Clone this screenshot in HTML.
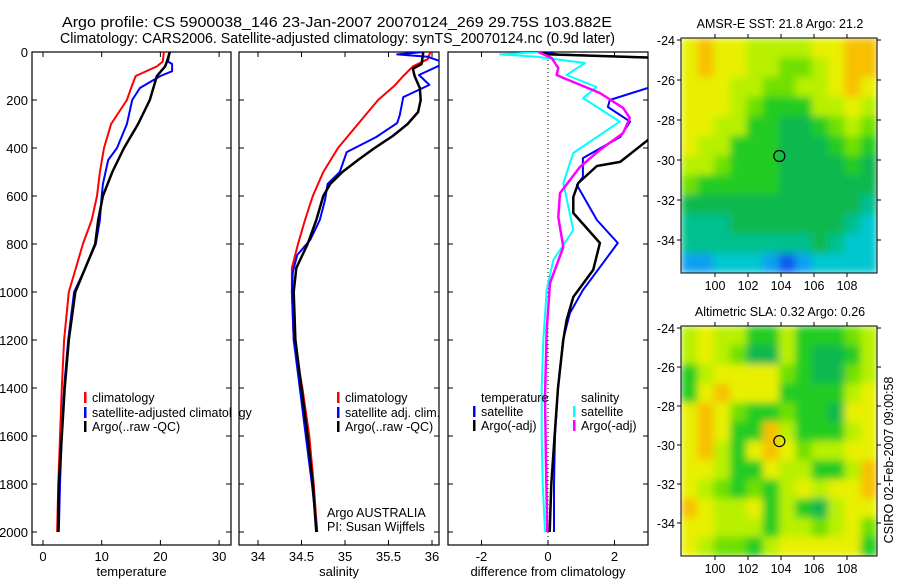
<!DOCTYPE html>
<html><head><meta charset="utf-8"><style>
body{margin:0;background:#fff;}
svg{display:block;font-family:"Liberation Sans",sans-serif;}
</style></head><body>
<svg id="chart" width="900" height="580" viewBox="0 0 900 580">
<defs><filter id="smooth" x="0" y="0" width="1" height="1"><feGaussianBlur stdDeviation="4" edgeMode="duplicate"/></filter></defs>
<text x="62" y="27" font-size="15" textLength="550" lengthAdjust="spacingAndGlyphs">Argo profile: CS 5900038_146 23-Jan-2007 20070124_269 29.75S 103.882E</text>
<text x="60" y="43" font-size="15" textLength="555" lengthAdjust="spacingAndGlyphs">Climatology: CARS2006. Satellite-adjusted climatology: synTS_20070124.nc (0.9d later)</text>
<g id="g"></g>
</svg>
<script>
// ---- data ----
const depthT = [0,40,60,100,150,200,300,400,500,600,700,800,900,1000,1200,1400,1600,1800,2000];
const tempClim = [20.6,20.4,19.4,15.8,15.0,14.3,11.6,10.4,9.7,9.2,8.3,6.8,5.6,4.4,3.6,3.2,2.9,2.6,2.4];
const depthTB = [0,40,50,80,100,150,200,300,400,450,550,600,700,800,900,1000,1200,1400,1600,1800,2000];
const tempSat = [21.6,21.3,22.0,22.0,20.0,16.5,15.2,14.3,12.6,11.1,10.2,10.0,9.7,9.0,7.2,5.3,4.3,3.6,3.2,2.9,2.7];
const depthTK = [0,40,60,100,200,300,400,500,600,700,800,900,1000,1200,1400,1600,1800,2000];
const tempArgo = [21.6,21.1,20.8,19.4,18.2,16.2,13.8,11.8,10.2,9.4,8.9,7.2,5.5,4.4,3.7,3.2,2.7,2.6];

const depthSR = [0,30,60,100,140,200,300,400,500,600,700,800,900,1000,1200,1400,1600,1800,2000];
const salClim = [35.98,35.95,35.78,35.67,35.57,35.38,35.15,34.92,34.75,34.63,34.54,34.46,34.39,34.39,34.41,34.51,34.59,34.64,34.68];
const depthSB = [0,10,20,35,46,96,137,188,262,296,354,417,500,550,617,700,783,846,917,1000,1200,1400,1600,1800,2000];
const salSat = [35.9,35.6,35.95,36.07,36.15,35.85,35.97,35.67,35.63,35.6,35.36,35.02,34.94,34.8,34.77,34.71,34.6,34.45,34.4,34.39,34.41,34.48,34.55,34.62,34.68];
const depthSK = [0,50,70,100,150,200,250,300,350,400,450,500,550,600,700,800,900,1000,1200,1400,1600,1800,2000];
const salArgo = [35.9,35.88,35.78,35.8,35.86,35.87,35.84,35.72,35.55,35.34,35.15,34.97,34.83,34.75,34.67,34.57,34.44,34.41,34.43,34.5,34.57,34.63,34.67];

const depthDB = [0,10,25,50,100,150,200,229,290,354,442,521,554,700,796,880,992,1088,1200,1400,1600,1800,2000];
const diffTSat = [-0.2,0.3,3.3,3.5,3.5,3.0,1.86,1.8,2.47,2.17,1.05,1.05,0.87,1.47,2.1,1.65,1.05,0.66,0.45,0.3,0.21,0.18,0.18];
const depthDK = [0,10,25,100,200,300,367,458,475,546,604,671,796,908,1021,1117,1200,1400,1600,1800,2000];
const diffTArgo = [-0.24,0.05,3.5,3.6,3.6,3.4,3.0,2.17,1.47,0.91,0.76,0.76,1.56,1.36,0.76,0.56,0.46,0.3,0.2,0.1,0.05];
const depthDC = [0,10,20,46,96,146,192,290,421,546,742,867,992,1200,1400,1600,1800,2000];
const diffSSat = [-0.24,-1.44,-0.34,1.11,0.56,1.46,1.06,2.16,0.76,0.46,0.76,0.16,-0.04,-0.14,-0.19,-0.19,-0.16,-0.09];
const depthDM = [0,25,67,96,108,171,233,275,338,408,479,588,688,813,963,1158,1438,1717,2000];
const diffSArgo = [-0.29,0.11,0.31,0.26,0.46,1.56,2.26,2.46,2.26,1.56,0.96,0.36,0.31,0.46,0.06,-0.04,-0.09,-0.06,-0.02];

const depthTicks = [0,200,400,600,800,1000,1200,1400,1600,1800,2000];
const tempTicks = [0,10,20,30];
const salTicks = [34,34.5,35,35.5,36];
const diffTicks = [-2,0,2];
const latTicks = [-24,-26,-28,-30,-32,-34];
const lonTicks = [100,102,104,106,108];

const mapPalette = ['#0a5cf0','#10a0f0','#00c8d0','#00c090','#10b850','#20cc20','#70e000','#b8f000','#e8f000','#f8c000'];
const sstGrid = [
[8,9,8,8,7,7,7,7,8,8,9,9],
[8,9,8,8,7,7,6,6,7,8,9,9],
[8,8,8,7,7,6,6,7,7,8,9,8],
[8,8,8,7,6,5,5,5,7,7,8,7],
[8,8,7,7,5,5,4,4,5,6,7,6],
[8,7,7,5,5,5,4,4,4,5,6,5],
[7,7,6,5,5,5,4,4,4,4,5,4],
[6,5,5,5,5,5,4,4,4,4,4,4],
[4,4,4,4,4,4,4,4,4,4,4,3],
[3,3,3,4,4,4,4,4,4,4,3,2],
[3,3,3,3,3,3,3,3,4,3,2,2],
[1,1,2,2,2,1,0,1,2,2,2,2]];
const slaGrid = [
[7,8,7,7,5,5,7,5,5,5,6,7],
[7,8,7,6,4,4,7,5,4,4,5,7],
[5,7,8,8,8,8,6,5,4,4,6,7],
[5,8,9,8,8,8,5,5,5,5,7,8],
[8,9,8,6,5,5,6,5,5,4,8,8],
[8,9,8,5,5,9,7,5,5,5,7,8],
[8,9,7,5,8,9,8,6,7,7,8,8],
[8,8,7,5,5,8,7,7,5,5,7,9],
[8,7,6,5,6,5,7,8,7,8,8,9],
[9,8,7,7,8,5,7,5,4,7,8,8],
[8,8,7,7,7,5,7,7,6,7,8,6],
[8,7,6,6,5,7,8,8,8,8,8,5]];
const floatLon = 103.9, floatLat = -29.8;

// ---- drawing ----
const NS='http://www.w3.org/2000/svg';
const G=document.getElementById('g');
function el(tag,attrs,parent){const e=document.createElementNS(NS,tag);for(const k in attrs)e.setAttribute(k,attrs[k]);(parent||G).appendChild(e);return e;}
const yD = d => 52 + 0.24*d;

function panel(name,x0,x1,xs,ticks,fmt,xtitle,showY){
  const gp=el('g',{});
  
  
  const cid='clip-'+name;
  const cp=el('clipPath',{id:cid},gp); el('rect',{x:x0,y:52,width:x1-x0,height:493},cp);
  const fr=el('rect',{x:x0,y:52,width:x1-x0,height:493,fill:'none',stroke:'#000','stroke-width':1.2},gp);
  
  
  depthTicks.forEach(d=>{
    el('line',{x1:x0,x2:x0+5,y1:yD(d),y2:yD(d),stroke:'#000'},gp);
    el('line',{x1:x1-5,x2:x1,y1:yD(d),y2:yD(d),stroke:'#000'},gp);
    if(showY){const t=el('text',{x:x0-4,y:yD(d)+5,'font-size':13,'text-anchor':'end'},gp);t.textContent=d;
      
      }
  });
  ticks.forEach(v=>{
    const x=xs(v);
    el('line',{x1:x,x2:x,y1:52,y2:57,stroke:'#000'},gp);
    el('line',{x1:x,x2:x,y1:540,y2:545,stroke:'#000'},gp);
    const t=el('text',{x:x,y:561,'font-size':13,'text-anchor':'middle'},gp);t.textContent=fmt(v);
    
    
  });
  const tt=el('text',{x:(x0+x1)/2,y:576,'font-size':13,'text-anchor':'middle'},gp);tt.textContent=xtitle;
  
  
  const inner=el('g',{'clip-path':'url(#'+cid+')'},gp);
  return inner;
}
function series(g,name,depths,vals,xs,color,w){
  const pts=depths.map((d,i)=>xs(vals[i]).toFixed(1)+','+yD(d).toFixed(1)).join(' ');
  const p=el('polyline',{points:pts,fill:'none',stroke:color,'stroke-width':w,'stroke-linejoin':'round'},g);
  
  
}
function legend(x,y,color,label,name){
  if(color){el('rect',{x:x,y:y-10,width:2.5,height:11,fill:color});}
  const t=el('text',{x:x+8,y:y,'font-size':12.5});t.textContent=label;
  
  
}

const xT=v=>43+5.87*v;
const p1=panel('temperature-panel',32,231,xT,tempTicks,v=>v,'temperature',true);
series(p1,'temp-climatology-line',depthT,tempClim,xT,'#f00',2);
series(p1,'temp-satellite-line',depthTB,tempSat,xT,'#00f',2);
series(p1,'temp-argo-line',depthTK,tempArgo,xT,'#000',2.5);

const xS=v=>258+87*(v-34);
const p2=panel('salinity-panel',239,439,xS,salTicks,v=>v,'salinity',false);
series(p2,'sal-climatology-line',depthSR,salClim,xS,'#f00',2);
series(p2,'sal-satellite-line',depthSB,salSat,xS,'#00f',2);
series(p2,'sal-argo-line',depthSK,salArgo,xS,'#000',2.5);

const xDf=v=>548+33.25*v;
const p3=panel('difference-panel',448,648,xDf,diffTicks,v=>v,'difference from climatology',false);
el('line',{x1:xDf(0),x2:xDf(0),y1:52,y2:545,stroke:'#000','stroke-dasharray':'1,3'},p3);
series(p3,'diff-temp-satellite-line',depthDB,diffTSat,xDf,'#00f',2);
series(p3,'diff-temp-argo-line',depthDK,diffTArgo,xDf,'#000',2.5);
series(p3,'diff-sal-satellite-line',depthDC,diffSSat,xDf,'#0ff',2);
series(p3,'diff-sal-argo-line',depthDM,diffSArgo,xDf,'#f0f',2.5);

legend(84,402,'#f00','climatology','legend-climatology');
legend(84,417,'#00f','satellite-adjusted climatology','legend-satellite-adjusted');
legend(84,431,'#000','Argo(..raw -QC)','legend-argo');
el('rect',{x:232,y:405,width:6,height:16,fill:'#fff'});
legend(337,402,'#f00','climatology','legend2-climatology');
legend(337,417,'#00f','satellite adj. clim.','legend2-satellite');
legend(337,431,'#000','Argo(..raw -QC)','legend2-argo');
legend(473,402,null,'temperature','legend3-temperature-heading');
legend(473,416,'#00f','satellite','legend3-temp-satellite');
legend(473,430,'#000','Argo(-adj)','legend3-temp-argo');
legend(573,402,null,'salinity','legend3-salinity-heading');
legend(573,416,'#0ff','satellite','legend3-sal-satellite');
legend(573,430,'#f0f','Argo(-adj)','legend3-sal-argo');
legend(319,517,null,'Argo AUSTRALIA','credit-argo-australia');
legend(319,531,null,'PI: Susan Wijffels','credit-pi');

function map(name,title,top,bottom,grid,latScale){
  const x0=681,x1=877;
  const gm=el('g',{});
  
  
  const lon=v=>715+16.5*(v-100);
  const lat=v=>top+2+ (-24-v)*latScale;
  const cols=grid[0].length, rows=grid.length;
  const cw=(x1-x0)/cols, rh=(bottom-top)/rows;
  const cid='clip-'+name;
  const cp=el('clipPath',{id:cid},gm); el('rect',{x:x0,y:top,width:x1-x0,height:bottom-top},cp);
  const outer=el('g',{'clip-path':'url(#'+cid+')'},gm);
  const cells=el('g',{filter:'url(#smooth)'},outer);
  grid.forEach((row,r)=>row.forEach((v,c)=>{
    const cell=el('rect',{x:x0+c*cw,y:top+r*rh,width:cw+0.6,height:rh+0.6,fill:mapPalette[v]},cells);
    
    
  }));
  el('rect',{x:x0,y:top,width:x1-x0,height:bottom-top,fill:'none',stroke:'#000'},gm);
  latTicks.forEach(v=>{const y=lat(v);
    el('line',{x1:x0-4,x2:x0,y1:y,y2:y,stroke:'#000'},gm);
    el('line',{x1:x1,x2:x1+4,y1:y,y2:y,stroke:'#000'},gm);
    const t=el('text',{x:x0-6,y:y+5,'font-size':12.5,'text-anchor':'end'},gm);t.textContent=v;
    
    });
  lonTicks.forEach(v=>{const x=lon(v);
    el('line',{x1:x,x2:x,y1:top-4,y2:top,stroke:'#000'},gm);
    el('line',{x1:x,x2:x,y1:bottom,y2:bottom+4,stroke:'#000'},gm);
    const t=el('text',{x:x,y:bottom+17,'font-size':12.5,'text-anchor':'middle'},gm);t.textContent=v;
    
    });
  const c=el('circle',{cx:lon(floatLon),cy:lat(floatLat),r:5.5,fill:'none',stroke:'#000','stroke-width':1.2},gm);
  
  
  const t=el('text',{x:780,y:top-10,'font-size':12.5,'text-anchor':'middle'},gm);t.textContent=title;
  
  
}
map('sst-map','AMSR-E SST: 21.8 Argo: 21.2',38,273,sstGrid,20);
map('sla-map','Altimetric SLA: 0.32 Argo: 0.26',326,556,slaGrid,19.5);
const st=el('text',{x:0,y:0,'font-size':12.5,'text-anchor':'middle',transform:'translate(893,460) rotate(-90)'});
st.textContent='CSIRO 02-Feb-2007 09:00:58';


</script>
</body></html>
